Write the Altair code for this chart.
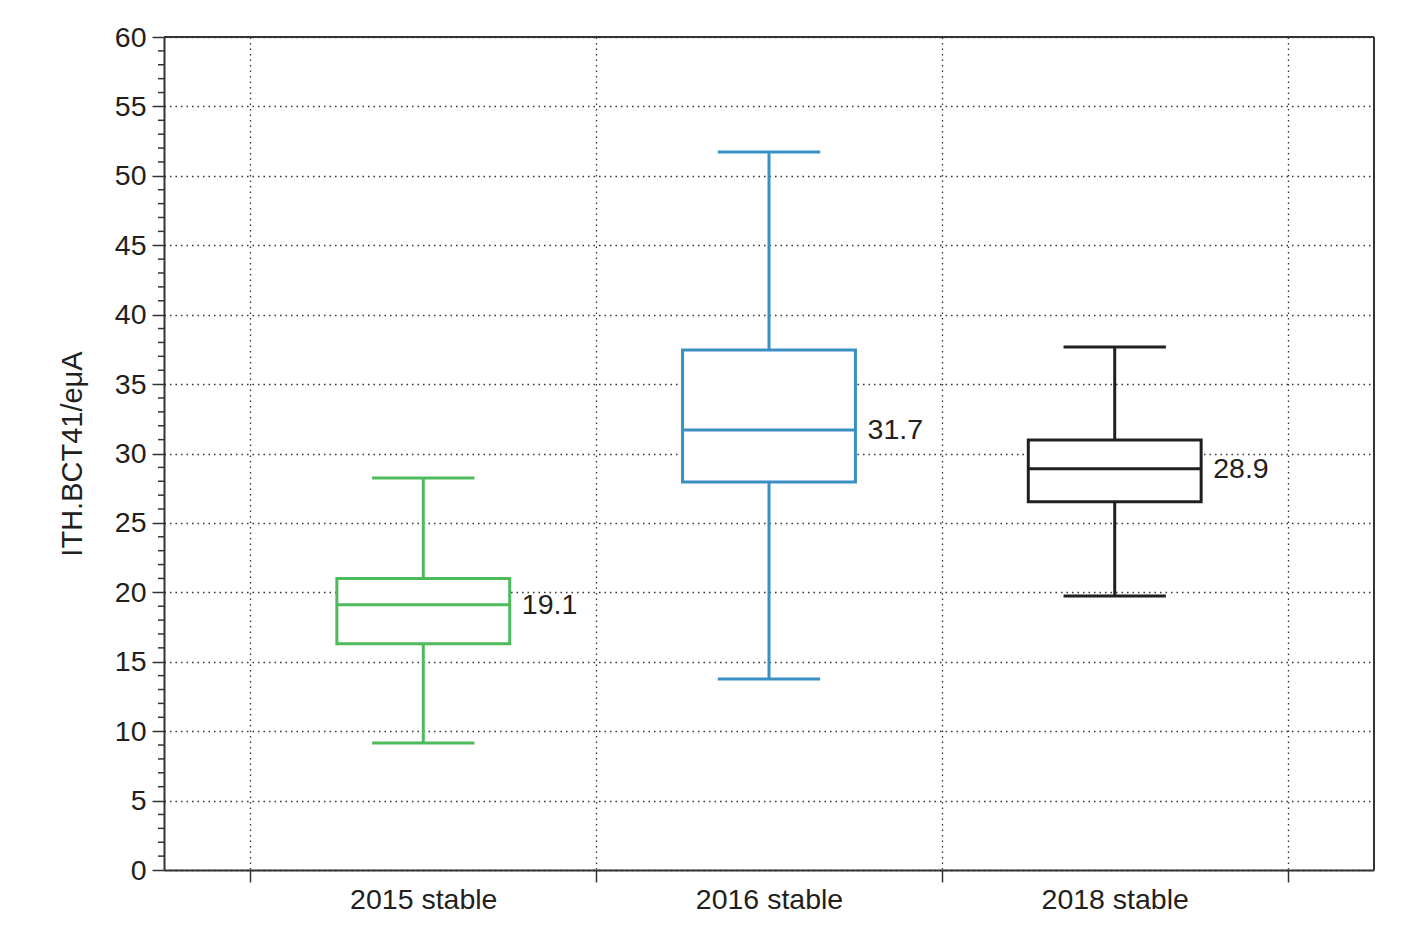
import altair as alt
import pandas as pd

categories = ["2015 stable", "2016 stable", "2018 stable"]
positions = [1, 2, 3]
whisker_low = [9.15, 13.76, 19.74]
q1 = [16.3, 27.95, 26.53]
median = [19.1, 31.7, 28.9]
q3 = [21.0, 37.46, 30.97]
whisker_high = [28.24, 51.72, 37.67]
colors = ["#4dbb5c", "#3a8fc5", "#231f20"]
median_labels = ["19.1", "31.7", "28.9"]

df = pd.DataFrame({
    "cat": categories, "pos": positions, "lo": whisker_low, "q1": q1,
    "med": median, "q3": q3, "hi": whisker_high, "color": colors,
    "label": median_labels,
})
df["bx1"] = df["pos"] - 0.25
df["bx2"] = df["pos"] + 0.25
df["cx1"] = df["pos"] - 0.148
df["cx2"] = df["pos"] + 0.148
df["lx"] = df["pos"] + 0.285

minor_vals = [v for v in range(0, 61) if v % 5 != 0]
minor_df = pd.DataFrame({"v": minor_vals})

FONT = "Liberation Sans"
W, H = 1210, 833
xscale = alt.Scale(domain=[0.25, 3.75], nice=False, zero=False)
yscale = alt.Scale(domain=[0, 60], nice=False)

label_expr = ("datum.value == 1 ? '2015 stable' : datum.value == 2 ? '2016 stable' : "
              "datum.value == 3 ? '2018 stable' : ''")

xaxis = alt.Axis(
    values=[0.5, 1, 1.5, 2, 2.5, 3, 3.5],
    labelExpr=label_expr, title=None,
    tickSize=12, tickWidth=1.5, tickColor="#333333",
    tickOpacity={"condition": {"test": "datum.value % 1 == 0", "value": 0}, "value": 1},
    grid=True, gridDash=[1.5, 4], gridColor="#333333", gridWidth=1.3,
    gridOpacity={"condition": {"test": "datum.value % 1 == 0", "value": 0}, "value": 1},
    labelFontSize=28.5, labelFont=FONT, labelColor="#231f20", labelPadding=3,
    domainColor="#333333", domainWidth=2, labelFlush=False, labelOverlap=False,
)
yaxis = alt.Axis(
    values=list(range(0, 61, 5)), title="ITH.BCT41/eμA",
    tickSize=12, tickWidth=1.5, tickColor="#333333",
    grid=True, gridDash=[1.5, 4], gridColor="#333333", gridWidth=1.3,
    labelFontSize=28.5, labelFont=FONT, labelColor="#231f20", labelPadding=6,
    titleFontSize=29, titleFont=FONT, titleFontWeight="normal", titleColor="#231f20",
    titleX=-92, titleY=416.5, titleAngle=270, titleAlign="center", titleBaseline="middle",
    domainColor="#333333", domainWidth=2,
)

base = alt.Chart(df)
color_enc = alt.Color("color:N", scale=None, legend=None)

whisk = base.mark_rule(strokeWidth=3).encode(
    x=alt.X("pos:Q", scale=xscale, axis=xaxis),
    y=alt.Y("lo:Q", scale=yscale, axis=yaxis), y2="hi:Q", color=color_enc,
)
cap_lo = base.mark_rule(strokeWidth=3).encode(
    x=alt.X("cx1:Q", scale=xscale), x2="cx2:Q", y=alt.Y("lo:Q", scale=yscale), color=color_enc,
)
cap_hi = base.mark_rule(strokeWidth=3).encode(
    x=alt.X("cx1:Q", scale=xscale), x2="cx2:Q", y=alt.Y("hi:Q", scale=yscale), color=color_enc,
)
box = base.mark_rect(fill="white", strokeWidth=3).encode(
    x=alt.X("bx1:Q", scale=xscale), x2="bx2:Q",
    y=alt.Y("q1:Q", scale=yscale), y2="q3:Q",
    stroke=alt.Stroke("color:N", scale=None, legend=None),
)
med = base.mark_rule(strokeWidth=3).encode(
    x=alt.X("bx1:Q", scale=xscale), x2="bx2:Q", y=alt.Y("med:Q", scale=yscale), color=color_enc,
)
txt = base.mark_text(align="left", baseline="middle", fontSize=28.5, font=FONT, color="#231f20").encode(
    x=alt.X("lx:Q", scale=xscale), y=alt.Y("med:Q", scale=yscale), text="label:N",
)
minor = alt.Chart(minor_df).mark_rule(color="#333333", strokeWidth=1.5).encode(
    x=alt.value(-6), x2=alt.value(0), y=alt.Y("v:Q", scale=yscale),
)
top_border = alt.Chart(minor_df).mark_rule(color="#333333", strokeWidth=2).encode(
    x=alt.value(0), x2=alt.value(W), y=alt.value(0),
)
right_border = alt.Chart(minor_df).mark_rule(color="#333333", strokeWidth=2).encode(
    x=alt.value(W), y=alt.value(0), y2=alt.value(H),
)

chart = alt.layer(whisk, cap_lo, cap_hi, box, med, txt, minor, top_border, right_border).properties(
    width=W, height=H,
    autosize=alt.AutoSizeParams(type="none"),
    padding={"left": 156, "top": 29, "right": 20, "bottom": 50},
).configure_view(stroke=None).configure(background="white")

chart.save("out.html", embed_options={"renderer": "svg", "actions": False})
